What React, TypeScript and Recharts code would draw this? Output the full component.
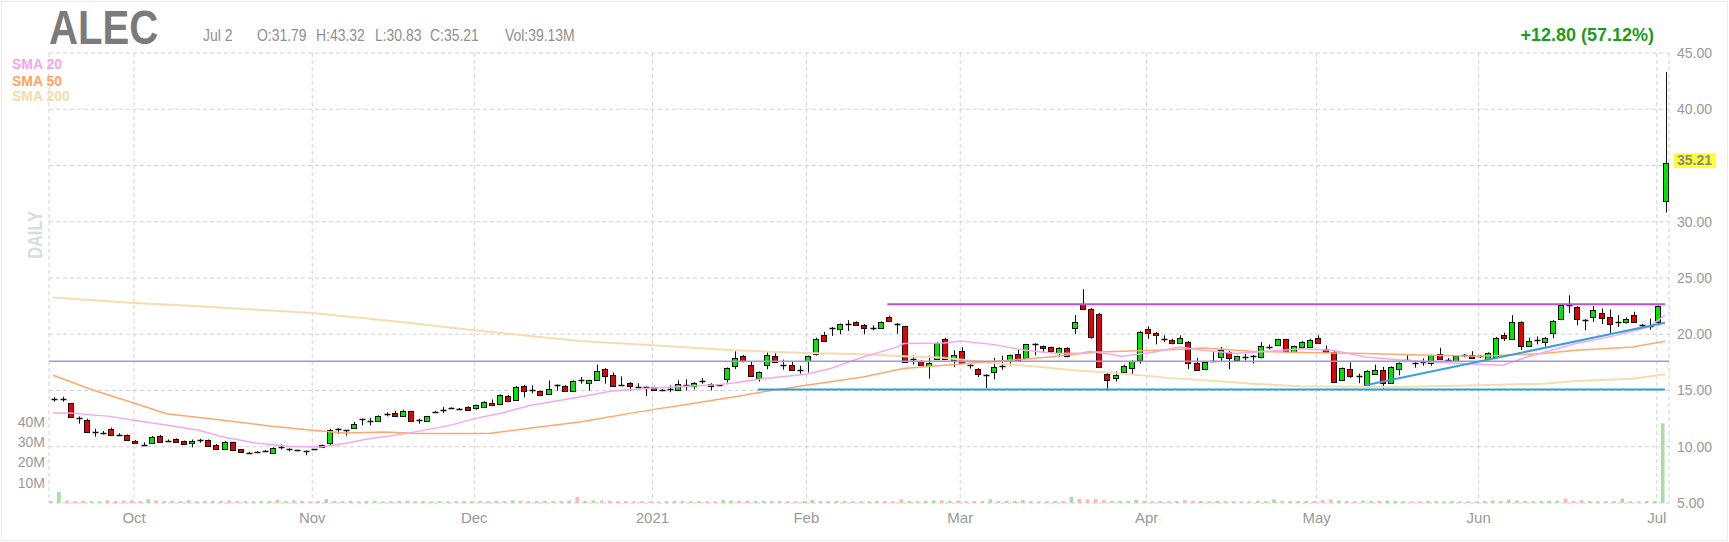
import React from 'react';
import { ComposedChart, Bar, Line, XAxis, YAxis, CartesianGrid, ReferenceLine, Cell } from 'recharts';

// trading sessions shown on the chart, per month
const tradingDays: [string, number[]][] = [
  ['2020-09', [17, 18, 21, 22, 23, 24, 25, 28, 29, 30]],
  ['2020-10', [1, 2, 5, 6, 7, 8, 9, 12, 13, 14, 15, 16, 19, 20, 21, 22, 23, 26, 27, 28, 29, 30]],
  ['2020-11', [2, 3, 4, 5, 6, 9, 10, 11, 12, 13, 16, 17, 18, 19, 20, 23, 24, 25, 27, 30]],
  ['2020-12', [1, 2, 3, 4, 7, 8, 9, 10, 11, 14, 15, 16, 17, 18, 21, 22, 23, 24, 28, 29, 30, 31]],
  ['2021-01', [4, 5, 6, 7, 8, 11, 12, 13, 14, 15, 19, 20, 21, 22, 25, 26, 27, 28, 29]],
  ['2021-02', [1, 2, 3, 4, 5, 8, 9, 10, 11, 12, 16, 17, 18, 19, 22, 23, 24, 25, 26]],
  ['2021-03', [1, 2, 3, 4, 5, 8, 9, 10, 11, 12, 15, 16, 17, 18, 19, 22, 23, 24, 25, 26, 29, 30, 31]],
  ['2021-04', [1, 5, 6, 7, 8, 9, 12, 13, 14, 15, 16, 19, 20, 21, 22, 23, 26, 27, 28, 29, 30]],
  ['2021-05', [3, 4, 5, 6, 7, 10, 11, 12, 13, 14, 17, 18, 19, 20, 21, 24, 25, 26, 27, 28]],
  ['2021-06', [1, 2, 3, 4, 7, 8, 9, 10, 11, 14, 15, 16, 17, 18, 21, 22, 23, 24, 25, 28, 29, 30]],
  ['2021-07', [1, 2]],
];

const opens = [
  14.25, 14.2, 13.85, 12.6, 12.4, 11.3, 11.25, 11.6, 11.08, 11.07,
  10.55, 10.15, 10.35, 10.95, 10.55, 10.7, 10.5, 10.35, 10.55, 10.6,
  10.2, 9.83, 10.42, 9.77, 9.48, 9.52, 9.6, 9.48, 9.98, 9.75,
  9.68, 9.6, 9.76, 10.12, 10.28, 11.6, 11.46, 11.67, 12.44, 12.26,
  12.26, 12.88, 13.0, 12.73, 13.17, 12.4, 12.3, 13.1, 13.3, 13.45,
  13.38, 13.53, 13.38, 13.53, 13.9, 13.77, 14.54, 14.19, 15.4, 15.08,
  14.92, 14.72, 15.49, 15.4, 14.92, 15.9, 15.67, 15.96, 16.94, 16.35,
  15.52, 15.67, 15.31, 15.31, 15.31, 15.08, 15.1, 15.1, 15.52, 15.4,
  15.85, 15.6, 15.48, 16.05, 17.18, 18.07, 17.24, 16.14, 17.3, 18.04,
  17.3, 17.3, 16.85, 17.6, 18.27, 19.97, 20.59, 20.4, 20.94, 21.09,
  20.85, 20.59, 20.59, 21.53, 20.94, 20.7, 17.83, 17.62, 17.18, 17.83,
  19.6, 17.68, 18.51, 17.24, 16.94, 16.4, 16.65, 17.15, 17.62, 18.28,
  17.83, 19.16, 18.96, 18.87, 18.37, 18.78, 20.59, 22.72, 22.27, 21.83,
  16.5, 16.14, 16.65, 17.03, 17.74, 20.44, 20.11, 19.6, 19.52, 19.22,
  19.31, 17.44, 16.88, 17.62, 17.92, 18.43, 17.68, 17.98, 18.07, 17.92,
  18.87, 19.01, 19.55, 18.43, 18.87, 18.93, 19.67, 18.72, 18.43, 15.9,
  16.94, 16.26, 15.37, 16.5, 16.85, 15.67, 16.94, 17.72, 17.44, 17.53,
  17.44, 18.28, 17.74, 17.6, 18.13, 18.19, 18.04, 17.83, 17.98, 19.9,
  19.61, 21.09, 18.96, 19.52, 19.31, 20.11, 21.3, 22.57, 22.42, 21.3,
  21.54, 21.9, 21.54, 21.09, 21.09, 21.68, 20.79, 20.7, 21.09, 31.79,
];

const highs = [
  14.4, 14.45, 13.9, 12.7, 12.5, 11.6, 11.4, 11.7, 11.2, 11.1,
  10.6, 10.4, 10.95, 11.05, 10.65, 10.75, 10.55, 10.65, 10.7, 10.65,
  10.25, 10.5, 10.45, 9.8, 9.55, 9.6, 9.7, 9.95, 10.2, 9.85,
  9.72, 9.65, 9.8, 10.2, 11.6, 11.65, 11.5, 12.2, 12.5, 12.55,
  12.8, 13.05, 13.2, 13.3, 13.2, 12.5, 12.75, 13.2, 13.55, 13.5,
  13.45, 13.6, 13.75, 14.05, 14.2, 14.65, 14.6, 15.4, 15.5, 15.45,
  15.0, 15.9, 15.55, 15.5, 15.9, 16.2, 15.95, 17.3, 17.0, 16.6,
  16.26, 15.75, 15.65, 15.35, 15.35, 15.15, 15.45, 15.9, 16.0, 15.75,
  16.1, 15.65, 15.55, 17.05, 18.5, 18.15, 17.6, 16.7, 18.43, 18.3,
  17.75, 17.6, 17.2, 18.1, 19.7, 20.2, 20.65, 20.95, 21.25, 21.15,
  20.9, 20.8, 21.15, 21.65, 21.0, 20.75, 18.1, 17.7, 18.1, 19.3,
  19.7, 18.57, 18.85, 17.3, 17.0, 16.45, 17.9, 18.1, 18.2, 18.6,
  19.15, 19.2, 19.0, 18.9, 18.85, 18.85, 21.7, 24.0, 22.35, 21.9,
  16.6, 16.7, 17.3, 17.7, 20.3, 20.7, 20.2, 19.9, 19.6, 19.9,
  19.4, 17.9, 17.6, 18.4, 18.87, 18.5, 18.1, 18.25, 18.15, 19.3,
  19.1, 19.6, 19.6, 19.0, 19.4, 19.6, 19.9, 19.0, 18.5, 17.05,
  17.5, 16.5, 16.8, 17.3, 17.1, 17.15, 17.5, 18.13, 17.5, 17.85,
  18.2, 18.8, 17.9, 18.1, 18.25, 18.5, 18.15, 18.4, 19.75, 20.15,
  21.7, 21.15, 19.7, 19.8, 19.75, 21.25, 22.6, 23.46, 22.5, 21.35,
  22.5, 22.3, 22.2, 21.7, 21.5, 22.0, 20.9, 21.39, 22.55, 43.32,
];

const lows = [
  14.0, 14.0, 12.6, 12.05, 11.3, 10.9, 11.1, 11.0, 10.95, 10.6,
  10.3, 10.05, 10.3, 10.35, 10.45, 10.35, 10.15, 9.95, 10.35, 10.1,
  9.7, 9.8, 9.65, 9.45, 9.4, 9.45, 9.55, 9.45, 9.75, 9.6,
  9.6, 9.25, 9.7, 9.9, 10.1, 11.15, 11.0, 11.6, 11.9, 11.9,
  12.2, 12.7, 12.7, 12.7, 12.2, 12.05, 12.25, 13.0, 13.0, 13.4,
  13.3, 13.2, 13.3, 13.5, 13.6, 13.7, 13.95, 14.1, 14.4, 14.75,
  14.5, 14.65, 14.98, 14.9, 14.85, 15.6, 15.0, 15.9, 15.6, 15.35,
  15.45, 15.0, 15.25, 14.5, 14.95, 15.0, 14.85, 15.05, 15.0, 15.1,
  15.6, 15.0, 15.4, 15.7, 16.9, 17.5, 16.2, 15.8, 16.88, 17.45,
  16.85, 16.8, 16.5, 16.6, 18.1, 19.3, 19.85, 20.0, 20.3, 20.75,
  20.0, 20.35, 20.5, 21.1, 20.05, 17.5, 17.3, 17.25, 16.05, 17.7,
  17.8, 17.1, 17.4, 16.95, 16.2, 15.2, 16.0, 16.85, 17.2, 17.6,
  17.8, 18.13, 18.4, 18.3, 18.0, 17.95, 20.0, 22.2, 19.6, 17.1,
  15.0, 15.8, 16.5, 16.4, 17.4, 19.6, 19.1, 19.3, 19.1, 19.15,
  16.9, 16.8, 16.8, 17.55, 17.62, 16.9, 17.6, 17.65, 17.4, 17.85,
  18.65, 18.95, 18.45, 18.35, 18.8, 18.85, 19.15, 18.45, 15.7, 15.85,
  16.1, 15.65, 15.3, 16.45, 15.15, 15.6, 16.35, 17.65, 17.03, 17.2,
  17.2, 17.8, 17.6, 17.55, 17.95, 17.85, 17.9, 17.7, 17.95, 19.4,
  19.55, 18.6, 18.9, 19.1, 18.9, 19.65, 21.25, 21.88, 20.8, 20.35,
  21.1, 20.9, 20.1, 20.65, 20.95, 21.0, 20.6, 20.4, 20.8, 30.83,
];

const closes = [
  14.2, 14.25, 12.65, 12.55, 11.3, 11.32, 11.25, 11.1, 11.06, 10.65,
  10.35, 10.1, 10.85, 10.4, 10.55, 10.4, 10.2, 10.55, 10.56, 10.1,
  9.85, 10.43, 9.67, 9.48, 9.47, 9.53, 9.62, 9.9, 9.97, 9.76,
  9.67, 9.6, 9.75, 9.95, 11.46, 11.55, 11.45, 12.05, 12.4, 12.27,
  12.73, 12.88, 12.73, 13.17, 12.26, 12.38, 12.7, 13.1, 13.3, 13.45,
  13.37, 13.24, 13.68, 13.98, 13.68, 14.57, 14.13, 15.31, 14.92, 15.07,
  14.57, 15.17, 15.45, 14.92, 15.82, 15.88, 15.9, 16.73, 16.29, 15.4,
  15.5, 15.37, 15.3, 15.3, 15.08, 15.07, 15.1, 15.6, 15.5, 15.67,
  15.85, 15.4, 15.44, 17.0, 17.89, 17.6, 16.26, 16.64, 18.19, 17.54,
  17.3, 16.85, 16.84, 18.04, 19.6, 19.46, 20.55, 20.88, 20.95, 20.85,
  20.59, 20.6, 21.09, 21.18, 20.93, 17.54, 17.84, 17.3, 17.44, 19.22,
  17.83, 18.13, 17.45, 17.22, 16.5, 16.35, 17.1, 17.14, 18.13, 17.68,
  19.1, 19.14, 18.8, 18.51, 18.78, 18.04, 21.09, 22.27, 19.81, 17.1,
  15.97, 16.4, 17.15, 17.62, 20.2, 20.05, 19.9, 19.61, 19.22, 19.67,
  17.44, 16.85, 17.53, 17.6, 18.57, 17.92, 18.04, 17.99, 18.05, 18.93,
  18.88, 19.55, 18.51, 18.93, 19.31, 19.52, 19.22, 18.48, 15.76, 17.0,
  16.35, 16.25, 16.73, 16.85, 15.67, 17.09, 17.44, 17.74, 17.43, 17.52,
  18.13, 17.83, 17.75, 18.04, 18.14, 17.92, 18.03, 18.34, 19.7, 19.61,
  21.09, 19.0, 19.37, 19.53, 19.7, 21.18, 22.57, 22.55, 21.39, 21.28,
  22.19, 21.45, 20.88, 21.1, 21.39, 21.09, 20.78, 20.71, 22.48, 35.21,
];

// volume in millions of shares
const volumes = [
  1.0, 5.5, 1.2, 0.9, 1.1, 0.9, 0.8, 1.3, 1.0, 1.2,
  1.3, 0.9, 1.8, 1.3, 1.0, 1.1, 1.0, 1.4, 0.9, 1.2,
  1.1, 1.0, 1.3, 1.0, 0.9, 0.8, 0.9, 1.0, 1.6, 0.9,
  1.3, 1.0, 0.8, 1.0, 1.9, 1.0, 0.9, 1.1, 0.9, 1.0,
  1.1, 0.8, 1.0, 1.0, 1.2, 0.9, 1.0, 0.8, 0.9, 0.8,
  0.8, 1.0, 0.9, 1.0, 1.0, 1.2, 1.0, 1.3, 1.1, 0.9,
  1.0, 1.1, 0.9, 1.0, 1.2, 3.0, 1.0, 1.3, 1.2, 1.1,
  0.9, 1.0, 0.8, 0.9, 0.8, 0.7, 0.9, 1.0, 1.0, 0.9,
  0.9, 0.8, 0.8, 1.4, 1.2, 1.1, 1.2, 1.0, 1.1, 1.0,
  0.9, 0.9, 0.8, 1.0, 1.5, 1.1, 1.0, 1.0, 1.0, 0.9,
  0.9, 0.8, 1.0, 1.0, 0.9, 1.8, 1.0, 0.9, 1.1, 1.3,
  1.3, 1.0, 1.2, 0.9, 1.0, 1.0, 1.8, 1.0, 1.1, 1.0,
  1.4, 0.9, 0.9, 0.9, 1.0, 1.0, 3.0, 2.0, 1.8, 1.9,
  1.6, 1.0, 1.1, 1.0, 1.6, 1.0, 0.9, 0.9, 0.9, 1.0,
  1.4, 1.1, 1.0, 0.9, 1.1, 1.0, 0.9, 0.8, 0.8, 1.1,
  0.9, 1.8, 1.1, 0.9, 1.0, 1.0, 1.0, 1.5, 1.8, 1.2,
  1.0, 0.9, 1.2, 1.0, 1.1, 1.2, 1.0, 0.9, 0.8, 0.9,
  1.0, 1.0, 0.8, 0.9, 0.8, 0.9, 0.8, 0.9, 1.2, 0.9,
  1.6, 1.2, 1.0, 0.9, 1.0, 1.1, 1.2, 2.2, 1.0, 1.4,
  1.0, 0.9, 1.0, 0.9, 2.2, 0.9, 0.8, 1.0, 1.0, 39.13,
];

// moving averages: [session index, value]
const sma20: [number, number][] = [
  [0, 13.0], [2, 13.0], [7, 12.7], [10, 12.35], [15, 11.82], [18, 11.46], [21, 10.87], [25, 10.33],
  [29, 10.04], [33, 9.98], [36, 10.28], [39, 10.72], [43, 11.1], [49, 11.9], [52, 12.5], [55, 12.94],
  [59, 13.68], [65, 14.42], [69, 14.96], [74, 15.22], [82, 15.52], [84, 15.67], [87, 16.0], [93, 16.44],
  [96, 16.95], [100, 17.98], [104, 18.81], [105, 19.17], [110, 19.22], [112, 19.4], [116, 19.1],
  [120, 18.57], [124, 18.28], [127, 18.33], [128, 18.48], [132, 18.04], [136, 18.42], [139, 18.87],
  [142, 18.57], [146, 18.28], [150, 18.48], [154, 18.72], [158, 18.57], [162, 17.98], [166, 17.74],
  [170, 17.53], [176, 17.33], [179, 17.24], [182, 17.98], [188, 19.17], [193, 19.9], [197, 20.64], [199, 21.68],
];

const sma50: [number, number][] = [
  [0, 16.35], [5, 15.02], [10, 13.89], [14, 12.94], [21, 12.35], [27, 11.82], [32, 11.46], [36, 11.22],
  [41, 11.31], [45, 11.17], [52, 11.17], [54, 11.2], [59, 11.67], [65, 12.2], [74, 13.3], [77, 13.62],
  [84, 14.42], [87, 14.8], [93, 15.46], [100, 16.2], [105, 16.95], [110, 17.24], [118, 17.68],
  [122, 17.92], [126, 18.22], [129, 18.42], [132, 18.48], [138, 18.63], [142, 18.78], [148, 18.48],
  [154, 18.37], [162, 18.28], [170, 18.13], [176, 18.04], [184, 18.28], [188, 18.57], [195, 18.87], [199, 19.37],
];

const sma200: [number, number][] = [
  [0, 23.26], [10, 22.78], [18, 22.48], [32, 21.89], [43, 21.09], [52, 20.35], [65, 19.4], [74, 19.02],
  [84, 18.57], [93, 18.33], [100, 18.22], [105, 18.04], [110, 17.92], [116, 17.45], [122, 17.09],
  [126, 16.8], [132, 16.5], [138, 16.1], [144, 15.82], [148, 15.61], [154, 15.37], [166, 15.31],
  [176, 15.46], [184, 15.61], [188, 15.85], [195, 16.05], [199, 16.44],
];

const monthTicks = ['2020-10-01', '2020-11-02', '2020-12-01', '2021-01-04', '2021-02-01', '2021-03-01', '2021-04-01', '2021-05-03', '2021-06-01', '2021-07-01'];
const monthLabels = ['Oct', 'Nov', 'Dec', '2021', 'Feb', 'Mar', 'Apr', 'May', 'Jun', 'Jul'];
const priceTicks = [5, 10, 15, 20, 25, 30, 35, 40, 45];
const volumeTicks = [10, 20, 30, 40];

// drawn annotations
const resistance = { from: '2021-02-16', to: '2021-07-02', price: 22.66 };
const support = { from: '2021-01-22', to: '2021-07-02', price: 15.08 };
const midLevel = 17.6;
const trend = { from: '2021-05-11', fromPrice: 15.46, to: '2021-07-02', toPrice: 21.03 };

const UP = '#00e600';
const DOWN = '#e60000';
const VOL_UP = '#a9dfa3';
const VOL_DOWN = '#f8b9b9';

const dates = tradingDays.flatMap(([m, days]) => days.map((d) => `${m}-${String(d).padStart(2, '0')}`));
const lastClose = closes[closes.length - 1];

const data = dates.map((date, i) => ({
  date,
  open: opens[i],
  high: highs[i],
  low: lows[i],
  close: closes[i],
  volume: volumes[i],
  sma20: null as number | null,
  sma50: null as number | null,
  sma200: null as number | null,
}));
sma20.forEach(([i, v]) => { data[i].sma20 = v; });
sma50.forEach(([i, v]) => { data[i].sma50 = v; });
sma200.forEach(([i, v]) => { data[i].sma200 = v; });

const Candle = (props: any) => {
  const { x, y, width, height, payload } = props;
  const { open, close, high, low } = payload;
  const top = Math.min(y, y + height);
  const span = Math.abs(height);
  const perUnit = high === low ? 0 : span / (high - low);
  const yOf = (v: number) => top + (high - v) * perUnit;
  const cx = Math.round(x + width / 2) + 0.5;
  const bodyTop = yOf(Math.max(open, close));
  const bodyBottom = yOf(Math.min(open, close));
  const bodyH = Math.round(bodyBottom - bodyTop);
  return (
    <g>
      <line x1={cx} x2={cx} y1={top} y2={top + span} stroke="#111" strokeWidth={1} />
      {bodyH < 2 ? (
        <line x1={cx - 3} x2={cx + 3} y1={Math.round(bodyTop) + 0.5} y2={Math.round(bodyTop) + 0.5} stroke="#111" strokeWidth={1.5} />
      ) : (
        <rect x={cx - 3} y={Math.round(bodyTop) + 0.5} width={5} height={bodyH} fill={close >= open ? UP : DOWN} stroke="#111" strokeWidth={1} />
      )}
    </g>
  );
};

const LastPriceTag = (props: any) => {
  const { viewBox } = props;
  const x = viewBox.x + viewBox.width + 5;
  const y = viewBox.y;
  return (
    <g>
      <rect x={x} y={y - 10} width={42} height={15} fill="#ffff33" />
      <text x={x + 3} y={y + 2} fontSize={14} fontWeight="bold" fill="#888">{lastClose.toFixed(2)}</text>
    </g>
  );
};

const narrow = (x: number, y: number) => `translate(${x},${y}) scale(0.82,1)`;

const App = () => {
  return (
    <div style={{ position: 'absolute', left: 0, top: 0, width: 1729, height: 542, background: '#fff', fontFamily: '"Liberation Sans", Arial, sans-serif' }}>
      <ComposedChart width={1729} height={542} data={data} margin={{ top: 53, right: 0, bottom: 0, left: 0 }}>
        <CartesianGrid yAxisId="price" strokeDasharray="4 3" stroke="#d2d2d2" />
        <XAxis
          dataKey="date"
          ticks={monthTicks}
          interval={0}
          tickFormatter={(d) => monthLabels[monthTicks.indexOf(d)] ?? ''}
          axisLine={false}
          tickLine={false}
          height={39}
          tickMargin={3}
          tick={{ fill: '#999', fontSize: 15 }}
        />
        <YAxis
          yAxisId="vol"
          orientation="left"
          domain={[0, 221]}
          ticks={volumeTicks}
          interval={0}
          tickFormatter={(v) => `${v}M`}
          width={49}
          tickSize={2}
          tickMargin={2}
          axisLine={false}
          tickLine={false}
          tick={{ fill: '#999', fontSize: 14 }}
        />
        <YAxis
          yAxisId="price"
          orientation="right"
          domain={[5, 45]}
          ticks={priceTicks}
          interval={0}
          tickFormatter={(v) => (Math.abs(Number(v) - lastClose) < 1.5 ? '' : Number(v).toFixed(2))}
          width={60}
          axisLine={false}
          tickLine={false}
          tick={{ fill: '#999', fontSize: 14 }}
        />
        <Bar yAxisId="vol" dataKey="volume" barSize={6} isAnimationActive={false}>
          {data.map((d) => (
            <Cell key={d.date} fill={d.close >= d.open ? VOL_UP : VOL_DOWN} />
          ))}
        </Bar>
        <Line yAxisId="price" dataKey="sma200" stroke="#f4ddb0" strokeWidth={2} dot={false} connectNulls isAnimationActive={false} />
        <Line yAxisId="price" dataKey="sma50" stroke="#ffa86e" strokeWidth={1.5} dot={false} connectNulls isAnimationActive={false} />
        <Line yAxisId="price" dataKey="sma20" stroke="#f4a9ec" strokeWidth={1.5} dot={false} connectNulls isAnimationActive={false} />
        <ReferenceLine yAxisId="price" y={midLevel} stroke="#9d96e2" strokeWidth={1.5} />
        <ReferenceLine
          yAxisId="price"
          segment={[{ x: resistance.from, y: resistance.price }, { x: resistance.to, y: resistance.price }]}
          stroke="#c34fd8"
          strokeWidth={2}
          ifOverflow="visible"
        />
        <ReferenceLine
          yAxisId="price"
          segment={[{ x: support.from, y: support.price }, { x: support.to, y: support.price }]}
          stroke="#2b9fd8"
          strokeWidth={2}
          ifOverflow="visible"
        />
        <ReferenceLine
          yAxisId="price"
          segment={[{ x: trend.from, y: trend.fromPrice }, { x: trend.to, y: trend.toPrice }]}
          stroke="#3a9fe0"
          strokeWidth={2}
          ifOverflow="visible"
        />
        <Bar yAxisId="price" dataKey={(d: any) => [d.low, d.high]} barSize={6} shape={Candle} isAnimationActive={false} />
        <ReferenceLine yAxisId="price" y={lastClose} stroke="none" label={<LastPriceTag />} />
      </ComposedChart>
      <svg width={1729} height={542} style={{ position: 'absolute', left: 0, top: 0, pointerEvents: 'none' }}>
        <rect x={1.5} y={1.5} width={1726} height={539} fill="none" stroke="#ebebeb" />
        <text transform={narrow(49, 44)} fontSize={49} fontWeight="bold" fill="#7b7b7b">ALEC</text>
        <text transform={narrow(203, 41)} fontSize={17} fill="#8f8f8f">Jul 2</text>
        <text transform={narrow(257, 41)} fontSize={17} fill="#8f8f8f">O:31.79</text>
        <text transform={narrow(316, 41)} fontSize={17} fill="#8f8f8f">H:43.32</text>
        <text transform={narrow(375, 41)} fontSize={17} fill="#8f8f8f">L:30.83</text>
        <text transform={narrow(430, 41)} fontSize={17} fill="#8f8f8f">C:35.21</text>
        <text transform={narrow(505, 41)} fontSize={17} fill="#8f8f8f">Vol:39.13M</text>
        <text x={1654} y={41} textAnchor="end" fontSize={18} fontWeight="bold" fill="#1c9c1c">+12.80 (57.12%)</text>
        <text x={12} y={69} fontSize={14} fontWeight="bold" fill="#f3a6ea">SMA 20</text>
        <text x={12} y={85.5} fontSize={14} fontWeight="bold" fill="#ffa363">SMA 50</text>
        <text x={12} y={101} fontSize={14} fontWeight="bold" fill="#f4dcaa">SMA 200</text>
        <text transform="translate(41.5,235) rotate(-90) scale(0.82,1)" textAnchor="middle" fontSize={20} fontWeight="bold" fill="#dcdcdc">DAILY</text>
      </svg>
    </div>
  );
};

export default App;
